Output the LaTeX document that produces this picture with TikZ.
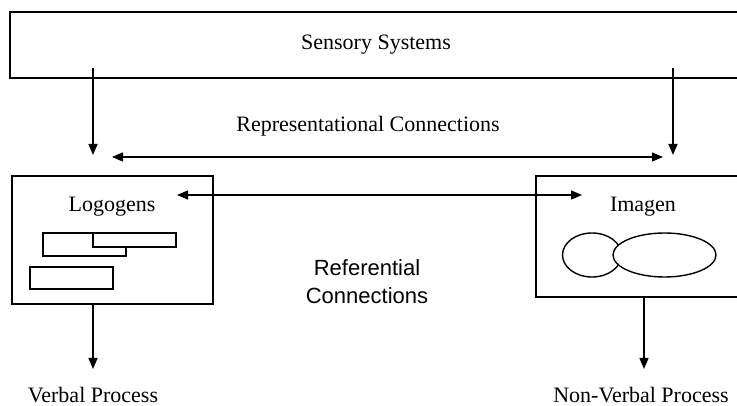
\documentclass[tikz,border=0pt]{standalone}
\usepackage{fontspec}
\setmainfont{Liberation Serif}
\setsansfont{Liberation Sans}
\usetikzlibrary{arrows.meta,positioning,calc}

\begin{document}
\begin{tikzpicture}[x=1pt, y=-1pt, >={Triangle[length=11pt,width=9pt]}, line width=1.4pt,
  box/.style={draw, line width=1.6pt, inner sep=0pt},
  lbl/.style={font=\fontsize{22}{26}\selectfont, inner sep=0pt},
  sanslbl/.style={font=\sffamily\fontsize{22}{28}\selectfont, inner sep=0pt, align=center}]
  \useasboundingbox (0,0) rectangle (737,406);
  % main boxes
  \node[box, lbl, minimum width=732pt, minimum height=66pt] (sens) at (376,45) {Sensory Systems};
  \node[box, minimum width=201pt, minimum height=128pt] (logo) at (112.5,240) {};
  \node[box, minimum width=206pt, minimum height=121pt] (imag) at (639,236.5) {};
  \node[lbl] (logolbl) at (112,207) {Logogens};
  \node[lbl] (imaglbl) at (643,207) {Imagen};
  % logogen bars
  \draw[fill=white] (43,233) rectangle (126,256);
  \draw[fill=white] (93,233) rectangle (176,247);
  \draw[fill=white] (30,267) rectangle (113,289);
  % imagen blobs
  \draw[fill=white] (592,255) ellipse [x radius=29.5pt, y radius=22pt];
  \draw[fill=white] (664.5,255) ellipse [x radius=51.5pt, y radius=22pt];
  % free ends
  \coordinate (sensL) at (93,68);
  \coordinate (sensR) at (673,68);
  \coordinate (tipL) at (93,155);
  \coordinate (tipR) at (673,155);
  \coordinate (repL) at (112,157);
  \coordinate (repR) at (663,157);
  \coordinate (refL) at (177,195);
  \coordinate (refR) at (582,195);
  \coordinate (verbL) at (93,369);
  \coordinate (verbR) at (644,369);
  % connectors
  \draw[->] (sensL) -- (tipL);
  \draw[->] (sensR) -- (tipR);
  \draw[<->] (repL) -- (repR);
  \draw[<->] (refL) -- (refR);
  \draw[->] (logo.south -| verbL) -- (verbL);
  \draw[->] (imag.south -| verbR) -- (verbR);
  % labels
  \node[lbl] (replbl) at (368,126) {Representational Connections};
  \node[sanslbl] (reflbl) at (367,282) {Referential\\Connections};
  \node[lbl] (verbal) at (93,395) {Verbal Process};
  \node[lbl] (nonverbal) at (641,395) {Non-Verbal Process};
\end{tikzpicture}
\end{document}
